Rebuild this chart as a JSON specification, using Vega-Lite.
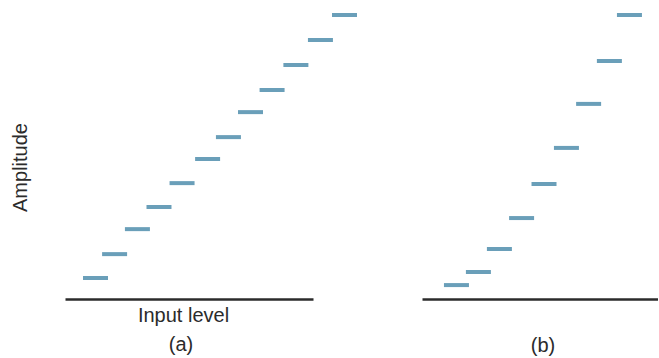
{
  "$schema": "https://vega.github.io/schema/vega-lite/v6.json",
  "background": "white",
  "padding": {"left": 10, "top": 13, "right": 0, "bottom": 0},
  "spacing": 65,
  "config": {
    "view": {"stroke": null},
    "font": "Liberation Sans",
    "axis": {"grid": false, "labels": false, "ticks": false, "titleFontSize": 20, "titleFontWeight": "normal", "titleColor": "#2b2b2b"},
    "title": {"fontSize": 20, "fontWeight": "normal", "color": "#2b2b2b"}
  },
  "datasets": {
    "linear": [
      {"level": 12.3, "amplitude": 7.4},
      {"level": 20.0, "amplitude": 15.8},
      {"level": 29.2, "amplitude": 24.6},
      {"level": 37.9, "amplitude": 32.4},
      {"level": 47.2, "amplitude": 40.8},
      {"level": 57.5, "amplitude": 49.3},
      {"level": 65.9, "amplitude": 57.0},
      {"level": 74.8, "amplitude": 65.8},
      {"level": 83.5, "amplitude": 73.6},
      {"level": 93.1, "amplitude": 82.4},
      {"level": 103.0, "amplitude": 91.2},
      {"level": 112.7, "amplitude": 100.0}
    ],
    "nonlinear": [
      {"level": 14.6, "amplitude": 4.9},
      {"level": 23.9, "amplitude": 9.5},
      {"level": 32.8, "amplitude": 17.6},
      {"level": 42.2, "amplitude": 28.5},
      {"level": 51.7, "amplitude": 40.5},
      {"level": 61.2, "amplitude": 53.2},
      {"level": 70.6, "amplitude": 68.7},
      {"level": 79.4, "amplitude": 83.8},
      {"level": 87.9, "amplitude": 100.0}
    ]
  },
  "hconcat": [
    {
      "width": 248,
      "height": 284,
      "data": {"name": "linear"},
      "title": {"text": "(a)", "orient": "bottom", "offset": 10, "dx": -8},
      "mark": {"type": "tick", "orient": "horizontal", "size": 25, "thickness": 4, "color": "#6a9fb9", "opacity": 1},
      "encoding": {
        "x": {"field": "level", "type": "quantitative", "scale": {"domain": [0, 100]},
              "axis": {"title": "Input level", "domainColor": "#2b2b2b", "domainWidth": 2.5, "titlePadding": 6, "titleX": 118}},
        "y": {"field": "amplitude", "type": "quantitative", "scale": {"domain": [0, 100]},
              "axis": {"title": "Amplitude", "domain": false, "titlePadding": 35, "titleY": 152}}
      }
    },
    {
      "width": 236,
      "height": 284,
      "data": {"name": "nonlinear"},
      "title": {"text": "(b)", "orient": "bottom", "offset": 37, "dx": 3},
      "mark": {"type": "tick", "orient": "horizontal", "size": 25, "thickness": 4, "color": "#6a9fb9", "opacity": 1},
      "encoding": {
        "x": {"field": "level", "type": "quantitative", "scale": {"domain": [0, 100]},
              "axis": {"title": null, "domainColor": "#2b2b2b", "domainWidth": 2.5}},
        "y": {"field": "amplitude", "type": "quantitative", "scale": {"domain": [0, 100]}, "axis": null}
      }
    }
  ]
}
